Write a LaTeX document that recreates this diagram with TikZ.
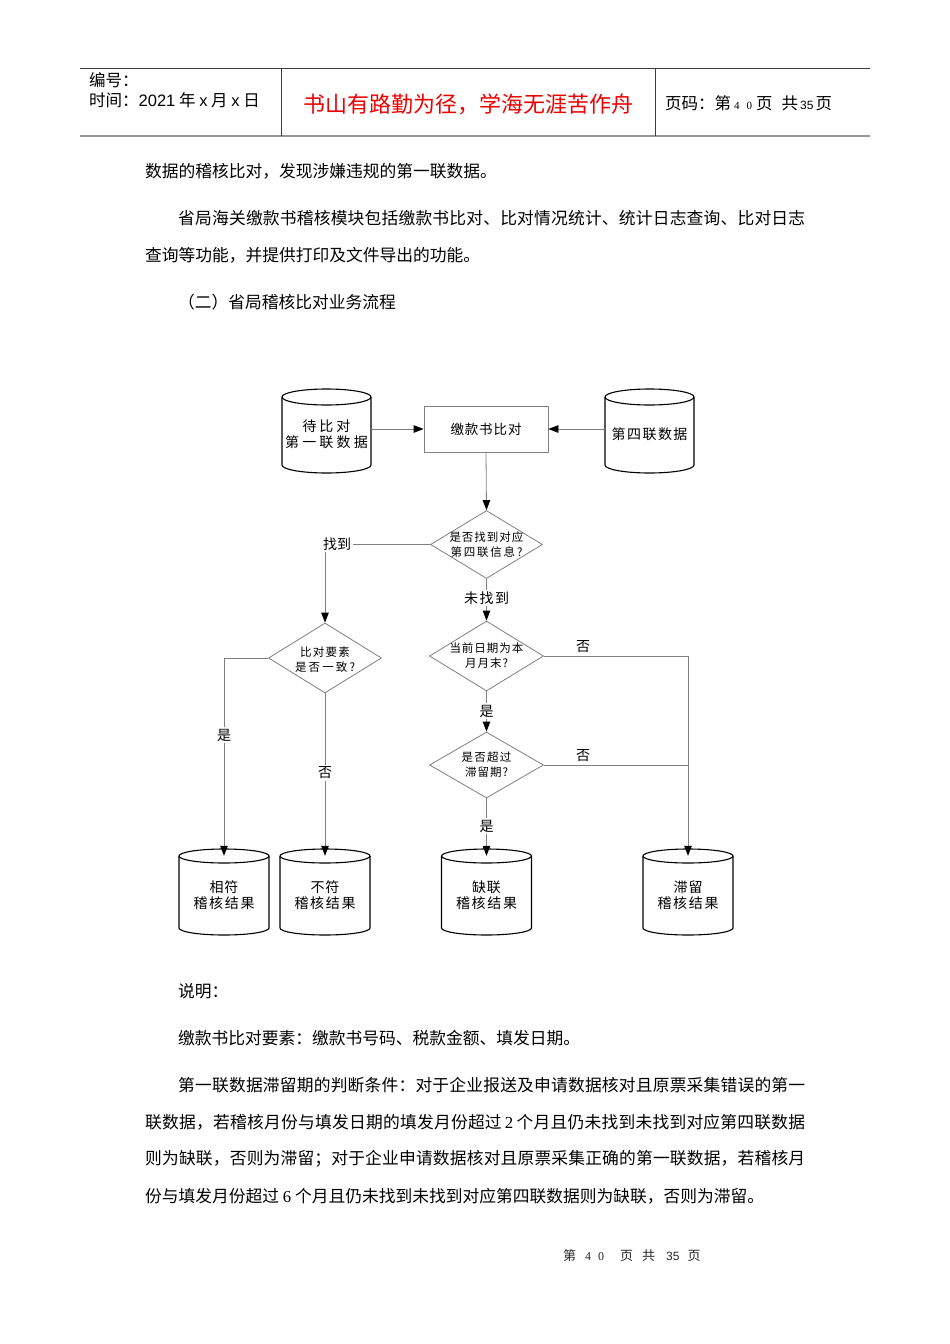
\documentclass[tikz,border=0pt]{standalone}
\usepackage{fontspec}
\setmainfont{Noto Sans CJK SC}
\newfontfamily\lserif{Liberation Serif}
\newfontfamily\lsans{Liberation Sans}
\usetikzlibrary{shapes.geometric,arrows.meta,calc}
\definecolor{lnGrey}{RGB}{128,128,128}
\definecolor{hdRed}{RGB}{236,0,0}
\definecolor{hdLine}{RGB}{60,60,60}
\definecolor{hdLow}{RGB}{150,150,150}
\makeatletter
\def\spb@end{}
\def\spb@go#1#2\spb@end{#1\ifx\spb@end#2\spb@end\else\hfil\spb@go#2\spb@end\fi}
\newcommand\spb[2]{\makebox[#1pt][s]{\spb@go#2\spb@end}}
\makeatother
\newcommand\fs[1]{\fontsize{#1}{#1}\selectfont}
\newcommand\dbcyl[7]{%
  \fill[white] (#2-#5,#3+#6) -- (#2-#5,#4-#6) arc[start angle=180,end angle=0,x radius=#5,y radius=#6] -- (#2+#5,#3+#6) arc[start angle=0,end angle=-180,x radius=#5,y radius=#6] -- cycle;
  \draw[cylline] (#2-#5,#3+#6) -- (#2-#5,#4-#6) arc[start angle=180,end angle=0,x radius=#5,y radius=#6] -- (#2+#5,#3+#6);
  \draw[cylline] (#2,#3+#6) ellipse[x radius=#5,y radius=#6];
  \node[cyltext,minimum width=2*#5,minimum height=#4-#3] (#1) at (#2,{(#3+#4)/2+3}) {#7};
}
\tikzset{
  cylline/.style={draw=black,line width=1.1pt},
  cyltext/.style={draw=none,inner sep=0pt,align=center,font=\fontsize{14}{16}\selectfont},
  conn/.style={draw=lnGrey,line width=0.8pt},
  arrowend/.style={-{Triangle[length=10pt,width=7.5pt,color=black]}},
  dia/.style={diamond,draw=lnGrey,line width=0.8pt,inner sep=0pt,fill=white},
  proc/.style={rectangle,draw=lnGrey,line width=0.8pt,fill=white,minimum width=124pt,minimum height=46pt,inner sep=0pt,font=\fs{13.5}},
  lbl/.style={inner sep=2pt,font=\fs{14}},
  lblw/.style={lbl,fill=white},
  dtext/.style={inner sep=0pt,align=center,font=\fontsize{11.5}{15}\selectfont},
  body/.style={anchor=west,inner sep=0pt,font=\fontsize{16.75}{18}\selectfont},
  hdr/.style={anchor=west,inner sep=0pt,font=\fontsize{16.5}{18}\selectfont},
}
\begin{document}
\begin{tikzpicture}[x=1pt,y=-1pt]
\useasboundingbox (0,0) rectangle (950,1344);
\fill[white] (0,0) rectangle (950,1344);

% ---------- header ----------
\draw[hdLine,line width=1pt] (80,68) -- (870,68);
\draw[hdLow,line width=2.2pt] (80,136) -- (870,136);
\draw[hdLine,line width=1pt] (281,68) -- (281,136);
\draw[hdLine,line width=1pt] (655,68) -- (655,136);
\node[hdr] (hno) at (89,80) {编号：};
\node[hdr] (htime) at (89,100) {时间：{\lsans 2021} 年 {\lsans x} 月 {\lsans x} 日};
\node[inner sep=0pt,font=\fs{22},text=hdRed] (hmotto) at (468,104) {书山有路勤为径，学海无涯苦作舟};
\node[hdr] (hpage) at (665,103) {页码：第{\lserif\fs{11}\hspace{3pt}4\hspace{7pt}0\hspace{4pt}}页\hspace{9pt}共{\lsans\fs{12}\hspace{2pt}35\hspace{2pt}}页};

% ---------- body text ----------
\node[body] (p1) at (145,171) {数据的稽核比对，发现涉嫌违规的第一联数据。};
\node[body] (p2) at (178,218) {\spb{627}{省局海关缴款书稽核模块包括缴款书比对、比对情况统计、统计日志查询、比对日志}};
\node[body] (p3) at (145,255) {查询等功能，并提供打印及文件导出的功能。};
\node[body] (p4) at (178,302) {（二）省局稽核比对业务流程};

% ---------- flowchart ----------
\dbcyl{cA}{326.5}{389}{473}{44.5}{8}{\spb{48}{待比对}\\\spb{83}{第一联数据}}
\dbcyl{cB}{649.5}{389}{473}{44.5}{8}{\spb{76}{第四联数据}}
\node[proc] (bx) at (486,429) {\spb{71}{缴款书比对}};

\node[dia,minimum width=112pt,minimum height=68pt] (d1) at (486.5,544.5) {};
\node[dia,minimum width=113pt,minimum height=70pt] (d2) at (325,658) {};
\node[dia,minimum width=114pt,minimum height=70pt] (d3) at (486.5,656) {};
\node[dia,minimum width=114pt,minimum height=66pt] (d4) at (486.5,765) {};

\node[dtext] (t1) at (d1) {\spb{74}{是否找到对应}\\\spb{72}{第四联信息?}};
\node[dtext] (t2) at ([yshift=-1.5pt]d2.center) {\spb{50}{比对要素}\\\spb{60}{是否一致?}};
\node[dtext] (t3) at (d3) {\spb{74}{当前日期为本}\\\spb{43}{月月末?}};
\node[dtext] (t4) at (d4) {\spb{50}{是否超过}\\\spb{43}{滞留期?}};

\dbcyl{cR1}{224}{849}{935}{45}{7}{\spb{29}{相符}\\\spb{61}{稽核结果}}
\dbcyl{cR2}{325}{849}{935}{45}{7}{\spb{29}{不符}\\\spb{61}{稽核结果}}
\dbcyl{cR3}{486.5}{849}{935}{45}{7}{\spb{29}{缺联}\\\spb{61}{稽核结果}}
\dbcyl{cR4}{688}{849}{935}{45}{7}{\spb{29}{滞留}\\\spb{61}{稽核结果}}

% connectors
\draw[conn,arrowend] (cA.east |- bx.west) -- (bx.west);
\draw[conn,arrowend] (cB.west |- bx.east) -- (bx.east);
\draw[conn,arrowend] (bx.south) -- (d1.north);
\draw[conn,arrowend] (d1.west) -| (d2.north);
\draw[conn,arrowend] (d1.south) -- (d3.north);
\draw[conn,arrowend] (d2.west) -| ([yshift=-4pt]cR1.north);
\draw[conn,arrowend] (d2.south) -- ([yshift=-4pt]cR2.north);
\draw[conn,arrowend] (d3.east) -| ([yshift=-4pt]cR4.north);
\draw[conn] (d4.east) -- (d4.east -| cR4.north);
\draw[conn,arrowend] (d3.south) -- (d4.north);
\draw[conn,arrowend] (d4.south) -- ([yshift=-4pt]cR3.north);

% connector labels
\node[lblw] (lfound) at (337,544) {\spb{28}{找到}};
\node[lblw] (lnotfound) at (486.5,598) {\spb{45}{未找到}};
\node[lblw] (lyes1) at (224,735) {是};
\node[lblw] (lno1) at (325,773) {否};
\node[lbl] (lno2) at (583,647) {否};
\node[lbl] (lno3) at (583,756) {否};
\node[lblw] (lyes2) at (486.5,711) {是};
\node[lblw] (lyes3) at (486.5,826) {是};

% ---------- notes ----------
\node[body] (n1) at (178,991) {说明：};
\node[body] (n2) at (178,1038) {缴款书比对要素：缴款书号码、税款金额、填发日期。};
\node[body] (n3) at (178,1085) {\spb{627}{第一联数据滞留期的判断条件：对于企业报送及申请数据核对且原票采集错误的第一}};
\node[body] (n4) at (145,1122) {\spb{660}{联数据，若稽核月份与填发日期的填发月份超过{{\hspace{3pt}\lserif 2\hspace{3pt}}}个月且仍未找到未找到对应第四联数据}};
\node[body] (n5) at (145,1159) {\spb{660}{则为缺联，否则为滞留；对于企业申请数据核对且原票采集正确的第一联数据，若稽核月}};
\node[body] (n6) at (145,1196) {份与填发月份超过 {\lserif 6} 个月且仍未找到未找到对应第四联数据则为缺联，否则为滞留。};

% ---------- footer ----------
\node[anchor=west,inner sep=0pt,font=\fs{13},text=black!85] (foot) at (563,1256) {第\hspace{9pt}{\lserif\fs{12}4\hspace{7pt}0}\hspace{16pt}页\hspace{9pt}共\hspace{11pt}{\lsans\fs{12}35}\hspace{8pt}页};
\end{tikzpicture}
\end{document}
